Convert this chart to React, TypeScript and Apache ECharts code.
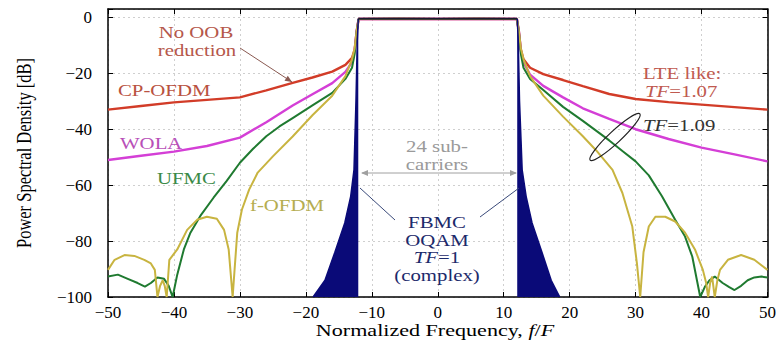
import React, { useEffect, useRef } from 'react';
import * as echarts from 'echarts';

const FONT = 'Liberation Serif';

// CP-OFDM (red)
const cpX = [-50, -45, -40, -35, -30, -26, -22, -19, -16, -14, -13, -12.6, -12.3, -12, -6, 0, 6, 12, 12.3, 12.6, 13, 14, 16, 19, 22, 26, 30, 35, 40, 45, 50];
const cpY = [-33, -31.7, -30.4, -29.5, -28.6, -26.1, -23.4, -21.5, -19.4, -17, -14.5, -11.5, -5, -0.6, -0.5, -0.6, -0.5, -0.6, -5, -11.5, -15, -18, -20.3, -22.4, -24.6, -27.4, -29.2, -30.3, -31.2, -32.1, -33];

// WOLA (magenta)
const woX = [-50, -45, -40, -35, -30, -26, -22, -19, -16, -14, -13, -12.6, -12.3, -12, -6, 0, 6, 12, 12.3, 12.6, 13, 14, 16, 19, 22, 26, 30, 35, 40, 45, 50];
const woY = [-51, -49.5, -48, -46, -43, -37.5, -31.5, -27.5, -23.5, -19.5, -16, -12, -5, -0.6, -0.5, -0.6, -0.5, -0.6, -5, -12, -16, -20.5, -24.5, -28.6, -32.5, -36.3, -40, -43.5, -46.6, -49, -51.5];

// UFMC (green)
const ufX = [-50, -48.5, -47, -45.5, -44.4, -43.5, -42.5, -41.5, -40.8, -40.2, -39.5, -38.5, -37.5, -36, -34, -32, -30, -28, -26, -24, -22, -19, -16, -14, -13, -12.6, -12.3, -12, -6, 0, 6, 12, 12.3, 12.6, 13, 14, 16, 19, 22, 24, 26, 28, 30, 32, 34, 36, 37.5, 38.6, 39.3, 39.8, 40.5, 41.2, 42, 43.2, 44.2, 45, 46, 47, 48, 49.1, 50];
const ufY = [-92.7, -92, -93.5, -95, -96.3, -95, -93, -93.5, -96, -100, -92, -83, -77, -71, -64.5, -58.5, -52, -47, -42.5, -39, -36, -31.5, -27, -22, -18, -13, -5, -0.6, -0.5, -0.6, -0.5, -0.6, -5, -13, -18, -22, -26, -32, -37, -40.5, -44, -47.8, -51.5, -56.5, -64, -72.4, -78.4, -85.6, -94, -100, -96.4, -94, -92.7, -95, -96.5, -97.5, -96, -94, -93, -92.7, -93];

// f-OFDM (olive)
const foX = [-50, -49, -47.5, -46, -44.5, -43.5, -42.9, -42.5, -42.1, -41.7, -41.4, -41.1, -40.7, -39.5, -38, -36.5, -35, -33.5, -32.4, -31.7, -31.1, -30.8, -30.4, -29.7, -28.6, -27.3, -25, -22, -19, -16, -14, -13, -12.6, -12.3, -12, -6, 0, 6, 12, 12.3, 12.6, 13, 14, 16, 19, 22, 24, 26.5, 28, 29.5, 30.2, 30.7, 31.2, 32, 33, 34.5, 36, 37.5, 39, 40.2, 40.7, 41, 41.3, 41.6, 42, 42.4, 42.8, 44, 46, 48, 50];
const foY = [-90.3, -86.7, -85, -85.3, -86.7, -88, -90.3, -100, -96, -94, -96, -100, -86.7, -83, -76, -72.4, -71.3, -72, -76, -83, -100, -90, -77, -68.8, -61.6, -55.5, -49.7, -42.6, -35, -28, -21, -15, -11, -5, -0.6, -0.5, -0.6, -0.5, -0.6, -5, -11, -15, -21, -28, -35.5, -42.5, -47.5, -54.5, -62.8, -74.8, -88, -100, -84, -74.8, -71.3, -71.3, -73, -77, -83, -90.3, -95, -100, -95, -92.7, -100, -94, -90.3, -86.7, -85, -86.7, -90.3];

// FBMC-OQAM (navy, filled side lobes + main lobe)
const fbLX = [-18.9, -17.1, -15.6, -14.1, -13.2, -12.7, -12.4, -12.2, -12.05];
const fbLY = [-100, -94, -84, -73.5, -64, -54.5, -30, -8, -0.5];
const fbMX = [-12.05, -8, -4, 0, 4, 8, 12.05];
const fbMY = [-0.5, -0.5, -0.5, -0.5, -0.5, -0.5, -0.5];
const fbRX = [12.05, 12.2, 12.4, 12.8, 13.4, 14.3, 15.8, 17.2, 18.5];
const fbRY = [-0.5, -8, -30, -54.5, -64, -73.5, -84, -94, -100];

const X_MIN = -50, X_MAX = 50, X_STEP = 10;
const Y_MIN = -100, Y_MAX = 3, Y_STEP = 20;

const zip = (xs: number[], ys: number[]) => xs.map((x, i) => [x, ys[i]]);
const minus = (v: number) => String(v).replace('-', '\u2212');

function arrowHead(x1: number, y1: number, x2: number, y2: number, len: number, half: number) {
  const a = Math.atan2(y2 - y1, x2 - x1);
  const bx = x2 - len * Math.cos(a), by = y2 - len * Math.sin(a);
  const px = -Math.sin(a) * half, py = Math.cos(a) * half;
  return [[x2, y2], [bx + px, by + py], [bx - px, by - py]];
}

const SX = 1.3;
function label(x: number, y: number, text: string, color: string, size = 16, align = 'left', rich?: any) {
  return {
    type: 'text', x, y, scaleX: SX, z: 100,
    style: {
      text, fill: color, fontSize: size, fontFamily: FONT,
      align, textAlign: align, verticalAlign: 'middle', textVerticalAlign: 'middle',
      rich,
    },
  };
}
const italic = (color: string, size = 16) => ({ i: { fontStyle: 'italic', fontSize: size, fontFamily: FONT, fill: color } });

function line(x1: number, y1: number, x2: number, y2: number, color: string, w = 1) {
  return { type: 'line', z: 100, shape: { x1, y1, x2, y2 }, style: { stroke: color, lineWidth: w } };
}
function head(x1: number, y1: number, x2: number, y2: number, color: string, len = 7, half = 3) {
  return { type: 'polygon', z: 100, shape: { points: arrowHead(x1, y1, x2, y2, len, half) }, style: { fill: color } };
}

export default function App() {
  const ref = useRef<HTMLDivElement>(null);
  useEffect(() => {
    if (!ref.current) return;
    const chart = echarts.init(ref.current, undefined, { renderer: 'svg' });
    const axisLineStyle = { color: '#000', width: 1.5 };
    const commonX = { type: 'value', min: X_MIN, max: X_MAX, interval: X_STEP };
    const commonY = { type: 'value', min: Y_MIN, max: Y_MAX, interval: Y_STEP };
    const lineSeries = (name: string, xs: number[], ys: number[], color: string, width = 2.4) => ({
      type: 'line', name, data: zip(xs, ys), symbol: 'none', showSymbol: false,
      lineStyle: { color, width }, itemStyle: { color }, z: 2,
    });
    const red = '#d23c28', mag = '#d43fd6', grn = '#1f7a30', yel = '#c8b440', navy = '#0a0a78';
    chart.setOption({
      animation: false,
      textStyle: { fontFamily: FONT },
      grid: { left: 108, right: 7, top: 9, bottom: 51, containLabel: false },
      xAxis: [
        {
          ...commonX, position: 'bottom',
          axisLine: { show: true, onZero: false, lineStyle: axisLineStyle },
          axisTick: { show: true, inside: true, length: 5, lineStyle: { color: '#000' } },
          axisLabel: { color: '#000', fontSize: 17, fontFamily: FONT, margin: 7, formatter: (v: number) => minus(v) },
          splitLine: { show: true, lineStyle: { color: '#cfcfcf', type: [2, 3], width: 1 } },
        },
        {
          ...commonX, position: 'top',
          axisLine: { show: true, onZero: false, lineStyle: axisLineStyle },
          axisTick: { show: true, inside: true, length: 5, lineStyle: { color: '#000' } },
          axisLabel: { show: false }, splitLine: { show: false },
        },
      ],
      yAxis: [
        {
          ...commonY, position: 'left',
          axisLine: { show: true, onZero: false, lineStyle: axisLineStyle },
          axisTick: { show: true, inside: true, length: 5, lineStyle: { color: '#000' } },
          axisLabel: {
            color: '#000', fontSize: 17, fontFamily: FONT, margin: 16,
            formatter: (v: number) => (v % Y_STEP === 0 ? minus(v) : ''),
          },
          splitLine: { show: true, lineStyle: { color: '#cfcfcf', type: [2, 3], width: 1 } },
        },
        {
          ...commonY, position: 'right',
          axisLine: { show: true, onZero: false, lineStyle: axisLineStyle },
          axisTick: { show: true, inside: true, length: 5, lineStyle: { color: '#000' } },
          axisLabel: { show: false }, splitLine: { show: false },
        },
      ],
      series: [
        lineSeries('CP-OFDM', cpX, cpY, red),
        lineSeries('WOLA', woX, woY, mag),
        lineSeries('UFMC', ufX, ufY, grn, 2),
        lineSeries('f-OFDM', foX, foY, yel, 2),
        {
          type: 'line', name: 'FBMC-OQAM', data: zip(fbLX, fbLY), symbol: 'none',
          lineStyle: { color: navy, width: 1.5 }, areaStyle: { color: navy, opacity: 1, origin: 'start' }, z: 3,
        },
        {
          type: 'line', name: 'FBMC-OQAM main', data: zip(fbMX, fbMY), symbol: 'none',
          lineStyle: { color: '#1a1a30', width: 2 }, z: 3,
        },
        {
          type: 'line', name: 'FBMC-OQAM right', data: zip(fbRX, fbRY), symbol: 'none',
          lineStyle: { color: navy, width: 1.5 }, areaStyle: { color: navy, opacity: 1, origin: 'start' }, z: 3,
        },
      ],
      graphic: [
        // axis titles
        {
          type: 'text', x: 24, y: 153, rotation: Math.PI / 2, scaleY: SX, z: 100,
          style: {
            text: 'Power Spectral Density [dB]', fill: '#000', fontSize: 16.5, fontFamily: FONT,
            align: 'center', textAlign: 'center', verticalAlign: 'middle', textVerticalAlign: 'middle',
          },
        },
        label(435, 330, 'Normalized Frequency, {i|f}/{i|F}', '#000', 17, 'center', italic('#000', 17)),
        // curve labels
        label(196, 32, 'No OOB', '#b5574b', 16, 'center'),
        label(197, 50, 'reduction', '#b5574b', 16, 'center'),
        line(240, 48, 292, 82, '#8a5a52', 1),
        head(240, 48, 292, 82, '#8a5a52'),
        label(118, 90, 'CP-OFDM', '#b9523f', 16),
        label(120, 143, 'WOLA', '#b84fb8', 16),
        label(157, 178, 'UFMC', '#3b8a48', 16),
        label(250, 205, 'f-OFDM', '#b5ad50', 16),
        // 24 sub-carriers
        label(437, 146, '24 sub-', '#9a9a9a', 16, 'center'),
        label(437, 164, 'carriers', '#9a9a9a', 16, 'center'),
        line(362, 173, 516, 173, '#a0a0a0', 1),
        head(516, 173, 361, 173, '#a0a0a0'),
        head(362, 173, 517, 173, '#a0a0a0'),
        // FBMC
        label(437, 222, 'FBMC', '#1c2a6b', 16, 'center'),
        label(437, 240, 'OQAM', '#1c2a6b', 16, 'center'),
        label(437, 257, '{i|TF}=1', '#1c2a6b', 16, 'center', italic('#1c2a6b')),
        label(437, 275, '(complex)', '#1c2a6b', 16, 'center'),
        line(395, 220, 360, 188, '#3a4a7a', 1),
        line(480, 217, 519, 188, '#3a4a7a', 1),
        // right labels
        label(643, 73, 'LTE like:', '#c05a50', 16),
        label(645, 91, '{i|TF}=1.07', '#c05a50', 16, 'left', italic('#c05a50')),
        label(643, 125, '{i|TF}=1.09', '#333', 16, 'left', italic('#333')),
        {
          type: 'ellipse', x: 615, y: 137, rotation: 0.75, z: 100,
          shape: { cx: 0, cy: 0, rx: 34, ry: 6 },
          style: { fill: 'none', stroke: '#222', lineWidth: 1.2 },
        },
      ],
    });
    return () => chart.dispose();
  }, []);
  return <div ref={ref} style={{ position: 'absolute', left: 0, top: 0, width: 779, height: 348 }} />;
}
